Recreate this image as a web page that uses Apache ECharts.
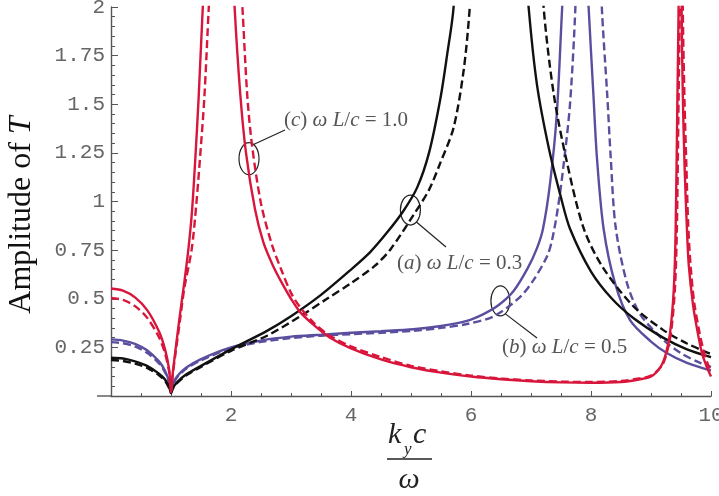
<!DOCTYPE html>
<html>
<head>
<meta charset="utf-8">
<script src="https://cdn.jsdelivr.net/npm/echarts@6/dist/echarts.min.js"></script>
<style>
  html, body { margin: 0; padding: 0; background: #fff; }
  #chart { width: 719px; height: 496px; }
</style>
</head>
<body>
<div id="chart"></div>
<script>
// values: [k_y c / omega, amplitude of T]
var blackSolid = [
  [0,0.197],[0.2,0.193],[0.4,0.178],[0.6,0.155],[0.8,0.115],[0.9,0.085],[0.97,0.045],[1.0,0.015],
  [1.03,0.04],[1.1,0.07],[1.25,0.11],[1.5,0.155],[2.0,0.24],[2.6,0.335],[3.0,0.41],[3.5,0.52],
  [4.0,0.65],[4.32,0.74],[4.6,0.84],[4.87,0.95],[5.1,1.07],[5.3,1.25],[5.49,1.53],[5.6,1.75],
  [5.71,2.0],[5.9,3.0],[6.7,3.0],[6.96,2.0],[7.1,1.6],[7.3,1.27],[7.5,1.02],[7.65,0.86],
  [8.0,0.64],[8.35,0.5],[8.71,0.4],[9.2,0.3],[9.6,0.24],[10,0.2]
];
var blackDashed = [
  [0,0.185],[0.2,0.18],[0.4,0.166],[0.6,0.145],[0.8,0.107],[0.9,0.078],[0.97,0.04],[1.0,0.015],
  [1.03,0.038],[1.1,0.066],[1.25,0.105],[1.5,0.15],[2.0,0.232],[2.6,0.31],[3.155,0.41],[3.6,0.5],
  [4.0,0.58],[4.4,0.67],[4.66,0.755],[5.04,0.93],[5.3,1.06],[5.49,1.2],[5.71,1.38],[5.88,1.68],
  [5.98,2.0],[6.2,3.0],[7.0,3.0],[7.21,2.0],[7.38,1.55],[7.6,1.2],[7.88,0.86],[8.2,0.66],
  [8.71,0.46],[9.2,0.34],[9.6,0.27],[10,0.215]
];
var blueSolid = [
  [0,0.291],[0.2,0.285],[0.4,0.268],[0.6,0.235],[0.8,0.178],[0.9,0.13],[0.97,0.072],[1.0,0.02],
  [1.03,0.06],[1.1,0.1],[1.25,0.145],[1.5,0.19],[2.0,0.25],[2.5,0.285],[3.0,0.305],[3.5,0.315],
  [4.0,0.325],[4.5,0.333],[5.04,0.343],[5.5,0.36],[5.93,0.386],[6.2,0.42],[6.45,0.465],[6.71,0.54],
  [6.95,0.66],[7.1,0.76],[7.2,0.86],[7.32,1.1],[7.43,1.45],[7.52,2.0],[7.7,3.0],[7.8,3.0],
  [7.96,2.0],[8.04,1.55],[8.1,1.22],[8.21,0.86],[8.4,0.58],[8.65,0.39],[9.0,0.28],[9.27,0.22],
  [9.6,0.17],[10,0.13]
];
var blueDashed = [
  [0,0.277],[0.2,0.271],[0.4,0.255],[0.6,0.222],[0.8,0.168],[0.9,0.122],[0.97,0.068],[1.0,0.02],
  [1.03,0.056],[1.1,0.095],[1.25,0.14],[1.5,0.183],[2.0,0.245],[2.5,0.278],[3.0,0.298],[3.5,0.31],
  [4.0,0.318],[4.5,0.325],[5.04,0.335],[5.5,0.35],[5.93,0.37],[6.38,0.41],[6.82,0.51],[7.05,0.6],
  [7.27,0.72],[7.35,0.8],[7.45,0.97],[7.54,1.18],[7.65,1.5],[7.74,2.0],[7.85,3.0],[8.05,3.0],
  [8.18,2.0],[8.27,1.55],[8.33,1.22],[8.41,0.87],[8.6,0.58],[8.82,0.42],[9.2,0.29],[9.5,0.22],
  [9.82,0.17],[10,0.15]
];
var redSolid = [
  [0,0.553],[0.2,0.542],[0.4,0.507],[0.6,0.443],[0.8,0.332],[0.9,0.241],[0.97,0.134],[1.0,0.02],
  [1.03,0.12],[1.08,0.25],[1.15,0.42],[1.22,0.58],[1.29,0.755],[1.35,0.95],[1.405,1.22],[1.46,1.53],
  [1.53,2.0],[1.7,3.0],[1.9,3.0],[2.06,2.0],[2.155,1.55],[2.25,1.25],[2.4,0.96],[2.54,0.79],
  [2.7,0.67],[2.85,0.58],[3.0,0.5],[3.155,0.43],[3.4,0.36],[3.65,0.3],[4.0,0.245],[4.5,0.188],
  [5.0,0.148],[5.5,0.12],[6.0,0.1],[6.5,0.086],[7.0,0.076],[7.5,0.07],[8.0,0.068],[8.5,0.072],
  [8.8,0.085],[9.0,0.1],[9.16,0.15],[9.25,0.22],[9.32,0.33],[9.38,0.55],[9.41,0.84],[9.44,1.53],
  [9.46,2.0],[9.48,3.0],[9.5,3.0],[9.51,2.0],[9.53,1.55],[9.56,1.18],[9.6,0.85],[9.63,0.67],
  [9.7,0.47],[9.77,0.34],[9.85,0.22],[9.93,0.15],[10,0.1]
];
var redDashed = [
  [0,0.504],[0.2,0.494],[0.4,0.462],[0.6,0.403],[0.8,0.302],[0.9,0.22],[0.97,0.122],[1.0,0.02],
  [1.03,0.11],[1.08,0.23],[1.15,0.39],[1.22,0.55],[1.345,0.755],[1.42,0.98],[1.49,1.25],[1.555,1.53],
  [1.63,2.0],[1.8,3.0],[2.0,3.0],[2.19,2.0],[2.27,1.55],[2.35,1.29],[2.5,0.99],[2.68,0.78],
  [2.85,0.64],[3.0,0.53],[3.155,0.455],[3.4,0.37],[3.65,0.31],[4.0,0.255],[4.5,0.2],[5.0,0.155],
  [5.5,0.127],[6.0,0.105],[6.5,0.09],[7.0,0.08],[7.5,0.074],[8.0,0.072],[8.5,0.077],[8.8,0.09],
  [9.0,0.105],[9.18,0.155],[9.27,0.23],[9.34,0.34],[9.4,0.56],[9.43,0.84],[9.46,1.53],[9.48,2.0],
  [9.5,3.0],[9.52,3.0],[9.53,2.0],[9.56,1.5],[9.59,1.18],[9.62,0.88],[9.66,0.67],[9.72,0.48],
  [9.8,0.34],[9.87,0.24],[9.94,0.17],[10,0.12]
];
var xTicks = [2, 4, 6, 8, 10];
var yTicks = [0.25, 0.5, 0.75, 1, 1.25, 1.5, 1.75, 2];

var RED = '#d8163c', BLUE = '#5a4f9f', BLACK = '#111';

function curve(data, color, dashed) {
  return {
    type: 'line',
    data: data,
    showSymbol: false,
    smooth: 0.3,
    clip: true,
    lineStyle: { color: color, width: 2.4, type: dashed ? [8, 4] : 'solid' }
  };
}

var myChart = echarts.init(document.getElementById('chart'));

var axisFont = { fontFamily: 'Liberation Mono', fontSize: 21, color: '#666' };

var option = {
  animation: false,
  grid: { left: 111, right: 8, top: 7, bottom: 100, containLabel: false, outerBoundsMode: 'none' },
  xAxis: {
    type: 'value', min: 0, max: 10, interval: 2,
    axisLine: { show: true, onZero: false, lineStyle: { color: '#555', width: 1.4 } },
    axisTick: { show: true, inside: true, length: 5, lineStyle: { color: '#555' } },
    minorTick: { show: true, splitNumber: 4, length: 3, lineStyle: { color: '#555' } },
    splitLine: { show: false },
    axisLabel: Object.assign({
      margin: 9, showMinLabel: true, showMaxLabel: true,
      formatter: function (v) { return xTicks.indexOf(v) >= 0 ? String(v) : ''; }
    }, axisFont)
  },
  yAxis: {
    type: 'value', min: 0, max: 2, interval: 0.25,
    axisLine: { show: true, onZero: false, lineStyle: { color: '#555', width: 1.4 } },
    axisTick: { show: true, inside: true, length: 7, lineStyle: { color: '#555' } },
    minorTick: { show: true, splitNumber: 5, length: 4, lineStyle: { color: '#555' } },
    splitLine: { show: false },
    axisLabel: Object.assign({
      margin: 6, showMinLabel: true, showMaxLabel: true,
      formatter: function (v) { return yTicks.indexOf(v) >= 0 ? String(v) : ''; }
    }, axisFont)
  },
  series: [
    curve(blueSolid, BLUE, false),
    curve(blueDashed, BLUE, true),
    curve(blackSolid, BLACK, false),
    curve(blackDashed, BLACK, true),
    curve(redSolid, RED, false),
    curve(redDashed, RED, true)
  ]
};
myChart.setOption(option);

// annotations placed after the axes exist
function px(x, y) { return myChart.convertToPixel({ gridIndex: 0 }, [x, y]); }
var o = px(0, 0);
var noteStyle = { fontFamily: 'Liberation Serif', fontSize: 21, fill: '#555', verticalAlign: 'middle' };
var rich = { i: { fontStyle: 'italic', fontFamily: 'Liberation Serif', fontSize: 21, color: '#555' } };

function note(x, y, str) {
  return { type: 'text', x: x, y: y, style: Object.assign({ text: str, rich: rich }, noteStyle) };
}
function ring(dx, dy, rx, ry) {
  var p = px(dx, dy);
  return { type: 'ellipse', shape: { cx: p[0], cy: p[1], rx: rx, ry: ry },
    style: { fill: null, stroke: '#222', lineWidth: 1.2 } };
}
function lead(x1, y1, x2, y2) {
  return { type: 'line', shape: { x1: x1, y1: y1, x2: x2, y2: y2 }, style: { stroke: '#222', lineWidth: 1.2 } };
}

var cC = px(2.3, 1.22), cA = px(4.99, 0.956), cB = px(6.49, 0.489);

myChart.setOption({
  graphic: [
    // short stub of the x axis left of the origin
    { type: 'line', shape: { x1: o[0] - 14, y1: o[1], x2: o[0], y2: o[1] }, style: { stroke: '#555', lineWidth: 1.4 } },
    ring(2.3, 1.22, 10, 16),
    ring(4.99, 0.956, 10, 15),
    ring(6.49, 0.489, 9.5, 15),
    lead(cC[0] + 4, cC[1] - 14, 285, 130),
    lead(cA[0] + 6, cA[1] + 12, 446, 247),
    lead(cB[0] + 5, cB[1] + 13, 537, 338),
    note(284, 120, '({i|c}) {i|ω L}/{i|c} = 1.0'),
    note(397, 263, '({i|a}) {i|ω L}/{i|c} = 0.3'),
    note(502, 347, '({i|b}) {i|ω L}/{i|c} = 0.5'),
    // y axis title
    { type: 'text', x: 22, y: 215, rotation: Math.PI / 2,
      style: { text: 'Amplitude of {t|T}', fontFamily: 'Liberation Serif', fontSize: 32, fill: '#111',
        align: 'center', verticalAlign: 'middle',
        rich: { t: { fontStyle: 'italic', fontFamily: 'Liberation Serif', fontSize: 32, color: '#111' } } } },
    // x axis title: k_y c over omega
    { type: 'text', x: 388, y: 435, style: { text: 'k', fontFamily: 'Liberation Serif', fontStyle: 'italic', fontSize: 30, fill: '#222', verticalAlign: 'middle' } },
    { type: 'text', x: 404, y: 450, style: { text: 'y', fontFamily: 'Liberation Serif', fontStyle: 'italic', fontSize: 17, fill: '#222', verticalAlign: 'middle' } },
    { type: 'text', x: 413, y: 435, style: { text: 'c', fontFamily: 'Liberation Serif', fontStyle: 'italic', fontSize: 30, fill: '#222', verticalAlign: 'middle' } },
    { type: 'line', shape: { x1: 387, y1: 459, x2: 432, y2: 459 }, style: { stroke: '#222', lineWidth: 1.5 } },
    { type: 'text', x: 409, y: 480, style: { text: 'ω', fontFamily: 'Liberation Serif', fontStyle: 'italic', fontSize: 30, fill: '#222', align: 'center', verticalAlign: 'middle' } }
  ]
});
</script>
</body>
</html>
